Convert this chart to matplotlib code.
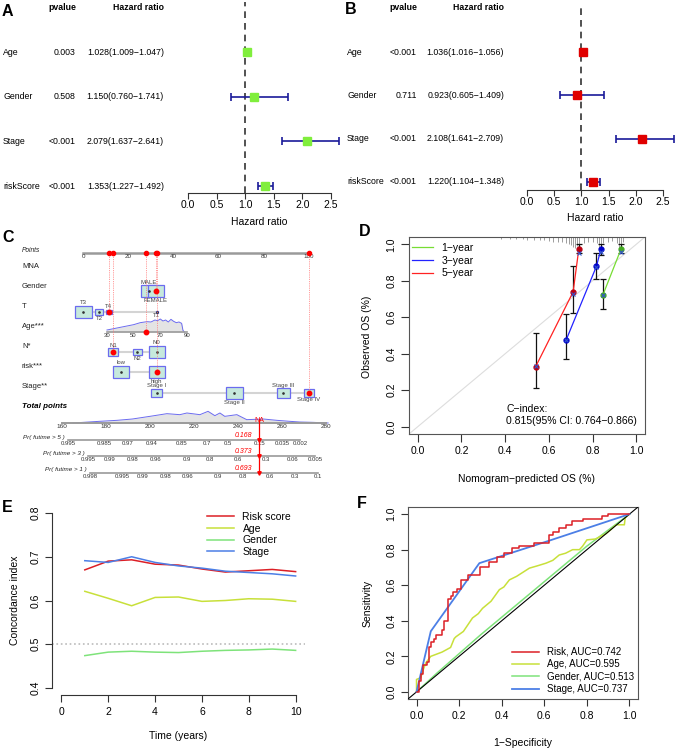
import numpy as np
import matplotlib
matplotlib.use('Agg')
import matplotlib.pyplot as plt
import matplotlib.transforms as mtransforms
from matplotlib.patches import Rectangle

plt.rcParams['font.family'] = ['Liberation Sans', 'DejaVu Sans']
MINUS = '\u2212'

W, H = 676, 750

# ---------------- data: A / B forest plots
forest_vars = ['Age', 'Gender', 'Stage', 'riskScore']
a_pvals = ['0.003', '0.508', '<0.001', '<0.001']
a_hr = [1.028, 1.150, 2.079, 1.353]
a_low = [1.009, 0.760, 1.637, 1.227]
a_high = [1.047, 1.741, 2.641, 1.492]
b_pvals = ['<0.001', '0.711', '<0.001', '<0.001']
b_hr = [1.036, 0.923, 2.108, 1.220]
b_low = [1.016, 0.605, 1.641, 1.104]
b_high = [1.056, 1.409, 2.709, 1.348]
hr_ticks = [0.0, 0.5, 1.0, 1.5, 2.0, 2.5]

# ---------------- data: C nomogram
points_ticks = [0, 20, 40, 60, 80, 100]
gender_levels = ['MALE', 'FEMALE']
gender_pts = [29.2, 32.3]
gender_freq = [15, 16]
t_levels = ['T3', 'T2', 'T4', 'T1']
t_pts = [0, 7.3, 11.3, 32.6]
t_freq = [17, 8, 6, 2]
n_levels = ['N1', 'N2', 'N0']
n_pts = [13.3, 23.9, 32.6]
n_freq = [10, 9, 16]
risk_levels = ['low', 'high']
risk_pts = [16.7, 32.6]
risk_freq = [16, 16]
stage_levels = ['Stage I', 'Stage II', 'Stage III', 'Stage IV']
stage_pts = [32.6, 66.9, 88.6, 100]
stage_freq = [11, 17, 13, 10]
age_ticks = [30, 50, 70, 90]
age_pts_range = [10.6, 46.0]
age_grid = [30, 40, 50, 55, 60, 63, 66, 68, 70, 72, 74, 76, 78, 80, 82, 84, 86, 87, 88]
age_dens = [6, 14, 22, 28, 31, 30, 36, 34, 39, 33, 36, 30, 38, 32, 28, 30, 26, 5, 0]
total_ticks = [160, 180, 200, 220, 240, 260, 280]
total_pts_range = [-9.3, 107.5]
total_grid = [165, 177, 185, 192, 200, 207.7, 213.6, 216.8, 222.7, 226.4, 229.5,
              231.8, 234, 239.5, 244, 251.5, 257.7, 263.6, 268, 274, 281]
total_dens = [0, 5, 8, 12, 20, 28, 25, 30, 25, 35, 22, 30, 20, 25, 10, 12, 8, 5, 3, 2, 0]
pr5_labels = ['0.995', '0.985', '0.97', '0.94', '0.85', '0.7', '0.5', '0.15', '0.035', '0.002']
pr5_total = [162.7, 179.1, 190.0, 200.9, 214.5, 225.9, 235.5, 250.0, 260.0, 268.2]
pr3_labels = ['0.995', '0.99', '0.98', '0.96', '0.9', '0.8', '0.6', '0.3', '0.06', '0.005']
pr3_total = [171.8, 181.8, 192.3, 202.7, 216.8, 227.3, 240.0, 252.7, 265.0, 275.0]
pr1_labels = ['0.998', '0.995', '0.99', '0.98', '0.96', '0.9', '0.8', '0.6', '0.3', '0.1']
pr1_total = [172.7, 187.3, 196.8, 207.3, 217.3, 230.9, 242.3, 254.5, 265.9, 276.4]
patient = {'Gender': 'FEMALE', 'T': 'T4', 'N': 'N1', 'risk': 'high', 'Stage': 'Stage IV'}
patient_age = 59
patient_total = 249.5
patient_probs = ['0.168', '0.373', '0.693']

# ---------------- data: D calibration
cal_1y_pred = [0.847, 0.930]
cal_1y_obs = [0.721, 0.973]
cal_1y_lo = [0.648, 0.950]
cal_1y_hi = [0.810, 1.000]
cal_1y_corr = [0.720, 0.960]
cal_3y_pred = [0.679, 0.818, 0.838]
cal_3y_obs = [0.475, 0.880, 0.973]
cal_3y_lo = [0.372, 0.810, 0.940]
cal_3y_hi = [0.616, 0.955, 1.000]
cal_3y_corr = [0.478, 0.875, 0.960]
cal_5y_pred = [0.540, 0.711, 0.737]
cal_5y_obs = [0.330, 0.739, 0.973]
cal_5y_lo = [0.211, 0.623, 0.950]
cal_5y_hi = [0.512, 0.881, 1.000]
cal_5y_corr = [0.335, 0.725, 0.955]
rug_pred = [0.38, 0.42, 0.45, 0.48, 0.50, 0.53, 0.56, 0.58, 0.60, 0.62, 0.64, 0.66,
            0.68, 0.69, 0.70, 0.71, 0.72, 0.73, 0.74, 0.76, 0.78, 0.80, 0.82, 0.83,
            0.84, 0.85, 0.87, 0.89, 0.91, 0.92, 0.93, 0.94]
rug_len = [0.005, 0.005, 0.008, 0.008, 0.010, 0.010, 0.012, 0.012, 0.015, 0.020, 0.020,
           0.025, 0.030, 0.035, 0.040, 0.050, 0.055, 0.045, 0.060, 0.030, 0.020, 0.020,
           0.030, 0.050, 0.055, 0.030, 0.020, 0.015, 0.030, 0.050, 0.055, 0.020]

# ---------------- data: E time-dependent C-index
years = [1, 2, 3, 4, 5, 6, 7, 8, 9, 10]
cidx_risk = [0.670, 0.690, 0.693, 0.683, 0.681, 0.672, 0.665, 0.668, 0.671, 0.666]
cidx_age = [0.621, 0.605, 0.588, 0.607, 0.608, 0.598, 0.600, 0.604, 0.603, 0.598]
cidx_gender = [0.474, 0.482, 0.484, 0.482, 0.481, 0.484, 0.486, 0.487, 0.489, 0.486]
cidx_stage = [0.691, 0.687, 0.700, 0.687, 0.679, 0.674, 0.667, 0.664, 0.661, 0.656]

# ---------------- data: F ROC
risk_fpr = [0, 0.01, 0.02, 0.03, 0.05, 0.06, 0.07, 0.08, 0.09, 0.12, 0.13, 0.15, 0.16,
            0.17, 0.19, 0.21, 0.24, 0.30, 0.34, 0.38, 0.41, 0.45, 0.48, 0.55, 0.62, 0.64,
            0.67, 0.70, 0.73, 0.78, 0.87, 0.90, 1.0]
risk_tpr = [0, 0.06, 0.10, 0.15, 0.17, 0.25, 0.28, 0.30, 0.32, 0.35, 0.40, 0.52, 0.54,
            0.56, 0.58, 0.63, 0.66, 0.70, 0.73, 0.76, 0.78, 0.81, 0.82, 0.84, 0.88, 0.90,
            0.92, 0.94, 0.96, 0.97, 0.99, 1.0, 1.0]
age_fpr = [0, 0, 0.02, 0.03, 0.044, 0.067, 0.12, 0.16, 0.177, 0.185, 0.22, 0.263, 0.29,
           0.31, 0.35, 0.389, 0.41, 0.436, 0.47, 0.53, 0.57, 0.608, 0.64, 0.67, 0.70,
           0.733, 0.765, 0.78, 0.80, 0.84, 0.89, 0.91, 0.937, 0.976, 0.98, 1.0]
age_tpr = [0, 0.07, 0.08, 0.12, 0.164, 0.20, 0.224, 0.25, 0.30, 0.31, 0.34, 0.416, 0.44,
           0.47, 0.51, 0.575, 0.59, 0.63, 0.65, 0.696, 0.71, 0.724, 0.74, 0.77, 0.78,
           0.80, 0.80, 0.82, 0.855, 0.86, 0.89, 0.91, 0.94, 0.94, 0.98, 1.0]
gender_fpr = [0, 0.1, 0.3, 0.5, 0.7, 0.8, 0.9, 1.0]
gender_tpr = [0, 0.11, 0.32, 0.52, 0.72, 0.82, 0.91, 1.0]
stage_fpr = [0, 0.067, 0.295, 0.624, 1.0]
stage_tpr = [0, 0.341, 0.724, 0.851, 1.0]
roc_labels = ['Risk, AUC=0.742', 'Age, AUC=0.595', 'Gender, AUC=0.513', 'Stage, AUC=0.737']

C_RED = '#DC1F26'
C_AGE = '#C8E03A'
C_GEN = '#7EE37A'
C_STG = '#4C7FE6'

fig = plt.figure(figsize=(6.76, 7.5), dpi=100)


def fx(px):
    return px / W


def fy(py):
    return 1 - py / H


def px_axes(l, t, r, b):
    return fig.add_axes([l / W, 1 - b / H, (r - l) / W, (b - t) / H])


def letter(x, y, s):
    fig.text(fx(x), fy(y), s, fontsize=11.5, fontweight='bold', ha='left', va='center')


def rot_yticks(ax):
    for lab in ax.get_yticklabels():
        lab.set_rotation(90)
        lab.set_va('center')


# ================= A / B forest plots
def forest(x0, x1, px_unit, y_top, y_axis, y_row0, row_step, hr, lo, hi, pv, col,
           x_name, x_pval, x_hrtxt, y_xlabel):
    ax = px_axes(x0, y_top, x1, y_axis)
    ax.set_xlim(0, (x1 - x0) / px_unit)
    ax.set_ylim((y_axis - y_row0) / row_step, (y_top - y_row0) / row_step)
    rows = np.arange(len(forest_vars))
    hr, lo, hi = np.array(hr), np.array(lo), np.array(hi)
    ax.axvline(1.0, color='#333333', ls=(0, (4, 3)), lw=1.2)
    ax.errorbar(hr, rows, xerr=[hr - lo, hi - hr], fmt='none', ecolor='#1a1a99',
                elinewidth=1.2, capsize=3, capthick=1.2, clip_on=False)
    ax.plot(hr, rows, 's', color=col, ms=5.8, zorder=4, clip_on=False)
    for s in ['top', 'right', 'left']:
        ax.spines[s].set_visible(False)
    ax.spines['bottom'].set_bounds(0, 2.5)
    ax.spines['bottom'].set_color('#333333')
    ax.set_yticks([])
    ax.set_xticks(hr_ticks)
    ax.set_xticklabels(['%.1f' % t for t in hr_ticks])
    ax.tick_params(axis='x', length=4, pad=1, labelsize=7.5, color='#333333')
    tr = mtransforms.blended_transform_factory(fig.transFigure, ax.transData)
    for i, name in enumerate(forest_vars):
        ax.text(fx(x_name), i, name, transform=tr, fontsize=6.3, ha='left', va='center')
        ax.text(fx(x_pval), i, pv[i], transform=tr, fontsize=6.3, ha='right', va='center')
        ax.text(fx(x_hrtxt), i, '%.3f(%.3f%s%.3f)' % (hr[i], lo[i], MINUS, hi[i]),
                transform=tr, fontsize=6.3, ha='right', va='center')
    fig.text(fx(x_pval), fy(8), 'pvalue', fontsize=6.3, fontweight='bold', ha='right', va='center')
    fig.text(fx(x_hrtxt), fy(8), 'Hazard ratio', fontsize=6.3, fontweight='bold', ha='right', va='center')
    fig.text(fx(x0 + 1.25 * px_unit), fy(y_xlabel), 'Hazard ratio', fontsize=7.5, ha='center', va='center')


forest(188, 340, 57.2, 2, 193, 52, 44.7, a_hr, a_low, a_high, a_pvals, '#80EE3C',
       3, 76, 164, 222)
forest(527, 676, 54.4, 4, 190, 52, 43.3, b_hr, b_low, b_high, b_pvals, '#E00000',
       347, 417, 504, 218)
letter(2, 12, 'A')
letter(345, 9, 'B')

# ================= C nomogram
PX_PT = 2.26
axc = px_axes(0, 240, 340, 482)
axc.set_xlim(-83 / PX_PT, (340 - 83) / PX_PT)
axc.set_ylim(482, 240)
axc.axis('off')
lab_x = (22 - 83) / PX_PT

row_names = ['Points', 'MNA', 'Gender', 'T', 'Age***', 'N*', 'risk***', 'Stage**', 'Total points']
row_label_y = [250, 266, 286, 306, 326, 346, 366, 386, 406]
for name, y in zip(row_names, row_label_y):
    if name == 'Points':
        axc.text(lab_x, y, name, fontsize=4.8, style='italic', va='center', color='#222222')
    elif name == 'Total points':
        axc.text(lab_x, y, name, fontsize=5.8, style='italic', fontweight='bold', va='center')
    else:
        axc.text(lab_x, y, name, fontsize=5.5, va='center', color='#222222')

Y_PTS = 253
axc.plot([0, 100], [Y_PTS, Y_PTS], color='#9a9a9a', lw=1.8, zorder=1)
for t in points_ticks:
    axc.text(t, Y_PTS + 4, str(t), fontsize=4.5, ha='center', va='center', color='#333333')

patient_points = []


def cat_row(levels, pts, freq, y, chosen):
    axc.plot([min(pts), max(pts)], [y, y], color='#d4d4d4', lw=1.5, zorder=1)
    for i, (lev, p, w) in enumerate(zip(levels, pts, freq)):
        wd = w / PX_PT
        h = w * 0.75
        axc.add_patch(Rectangle((p - wd / 2, y - h / 2), wd, h, facecolor='#c6e9dc',
                                edgecolor='#6b6bef', lw=0.9, zorder=2))
        axc.plot(p, y, 'o', ms=0.9, color='#333333', zorder=3)
        ly = y - h / 2 - 3 if i % 2 == 0 else y + h / 2 + 3
        axc.text(p, ly, lev, ha='center', va='center', fontsize=4.3, color='#444444')
        if lev == chosen:
            axc.plot(p, y, 'o', ms=3.2, color='red', zorder=4)
            patient_points.append((p, y))


cat_row(gender_levels, gender_pts, gender_freq, 291, patient['Gender'])
cat_row(t_levels, t_pts, t_freq, 312, patient['T'])
cat_row(n_levels, n_pts, n_freq, 352, patient['N'])
cat_row(risk_levels, risk_pts, risk_freq, 372, patient['risk'])
cat_row(stage_levels, stage_pts, stage_freq, 393, patient['Stage'])


def age_to_pts(a):
    a = np.asarray(a, dtype=float)
    return age_pts_range[0] + (a - age_ticks[0]) * (age_pts_range[1] - age_pts_range[0]) / (age_ticks[-1] - age_ticks[0])


Y_AGE = 332
ag = age_to_pts(age_grid)
axc.fill_between(ag, Y_AGE, Y_AGE - np.array(age_dens) / 3, color='#e4e4e4', lw=0, zorder=1)
axc.plot(ag, Y_AGE - np.array(age_dens) / 3, color='#6b6bef', lw=0.7, zorder=2)
axc.plot(age_to_pts([age_ticks[0], age_ticks[-1]]), [Y_AGE, Y_AGE], color='#9a9a9a', lw=1.2, zorder=2)
for a in age_ticks:
    axc.text(age_to_pts(a), Y_AGE + 3.5, str(a), fontsize=4.3, ha='center', va='center', color='#333333')
pa = float(age_to_pts(patient_age))
axc.plot(pa, Y_AGE, 'o', ms=3.2, color='red', zorder=4)
patient_points.append((pa, Y_AGE))

# red dotted guide lines to the Points axis
for p, y in patient_points:
    axc.plot([p, p], [Y_PTS, y], color='#ff7a7a', lw=0.6, ls=(0, (1, 1.2)), zorder=3)
    axc.plot(p, Y_PTS, 'o', ms=3.0, color='red', zorder=4)


def tot_to_pts(t):
    t = np.asarray(t, dtype=float)
    return total_pts_range[0] + (t - total_ticks[0]) * (total_pts_range[1] - total_pts_range[0]) / (total_ticks[-1] - total_ticks[0])


Y_TOT = 423
tg = tot_to_pts(total_grid)
axc.fill_between(tg, Y_TOT, Y_TOT - np.array(total_dens) / 3, color='#e4e4e4', lw=0, zorder=1)
axc.plot(tg, Y_TOT - np.array(total_dens) / 3, color='#6b6bef', lw=0.7, zorder=2)
axc.plot(tot_to_pts([total_ticks[0], total_ticks[-1]]), [Y_TOT, Y_TOT], color='#9a9a9a', lw=1.4, zorder=2)
for t in total_ticks:
    axc.text(tot_to_pts(t), Y_TOT + 4, str(t), fontsize=4.6, ha='center', va='center', color='#333333')

pr_rows = [('Pr( futime > 5 )', pr5_labels, pr5_total, 440, 23, 437),
           ('Pr( futime > 3 )', pr3_labels, pr3_total, 456, 43, 453),
           ('Pr( futime > 1 )', pr1_labels, pr1_total, 473, 45, 470)]
for name, labs, tots, y, tx, ty in pr_rows:
    axc.plot(tot_to_pts([tots[0], tots[-1]]), [y, y], color='#9a9a9a', lw=1.2, zorder=2)
    for lab, t in zip(labs, tots):
        axc.text(tot_to_pts(t), y + 3.5, lab, fontsize=4.3, ha='center', va='center', color='#333333')
    axc.text((tx - 83) / PX_PT, ty, name, fontsize=4.5, style='italic', ha='left', va='center', color='#222222')

pt = float(tot_to_pts(patient_total))
axc.plot([pt, pt], [Y_TOT - 4, pr_rows[-1][3]], color='red', lw=0.9, zorder=5)
axc.text(pt, Y_TOT - 3, 'NA', color='red', fontsize=5, ha='center', va='center', zorder=5)
for (name, labs, tots, y, tx, ty), prob in zip(pr_rows, patient_probs):
    axc.plot(pt, y, 'v', ms=2.5, color='red', zorder=5)
    axc.text(pt - 3, y - 4.5, prob, color='red', fontsize=5, style='italic', ha='right', va='center')
letter(2, 237, 'C')

# ================= D calibration
axd = px_axes(409, 237, 645, 434)
axd.set_xlim(-0.04, 1.04)
axd.set_ylim(-0.04, 1.04)
axd.axline((0, 0), (1, 1), color='#dddddd', lw=0.8, zorder=1)
axd.vlines(rug_pred, 1.04 - np.array(rug_len) - 0.005, 1.04, color='#777777', lw=0.5)
cal_sets = [(cal_1y_pred, cal_1y_obs, cal_1y_lo, cal_1y_hi, cal_1y_corr, '#77dd33', '#44aa22', '1' + MINUS + 'year'),
            (cal_3y_pred, cal_3y_obs, cal_3y_lo, cal_3y_hi, cal_3y_corr, '#2222ff', '#0000cc', '3' + MINUS + 'year'),
            (cal_5y_pred, cal_5y_obs, cal_5y_lo, cal_5y_hi, cal_5y_corr, '#ff2222', '#bb0011', '5' + MINUS + 'year')]
for pred, obs, lo, hi, corr, col, dcol, lab in cal_sets:
    pred, obs, lo, hi = map(np.array, (pred, obs, lo, hi))
    axd.errorbar(pred, obs, yerr=[obs - lo, hi - obs], fmt='none', ecolor='#111111',
                 elinewidth=0.9, capsize=2.5, capthick=0.9, zorder=2)
    axd.plot(pred, obs, color=col, lw=0.9, label=lab, zorder=3)
    axd.plot(pred, obs, 'o', color=dcol, ms=3.5, zorder=4)
    axd.plot(pred, corr, 'x', color='#3355cc', ms=3.5, mew=0.8, zorder=5)
axd.set_xticks([0, 0.2, 0.4, 0.6, 0.8, 1.0])
axd.set_yticks([0, 0.2, 0.4, 0.6, 0.8, 1.0])
axd.set_xticklabels(['0.0', '0.2', '0.4', '0.6', '0.8', '1.0'])
axd.set_yticklabels(['0.0', '0.2', '0.4', '0.6', '0.8', '1.0'])
axd.tick_params(length=5.5, pad=3.5, labelsize=7.5, color='#333333')
rot_yticks(axd)
for s in axd.spines.values():
    s.set_color('#555555')
    s.set_linewidth(0.8)
axd.legend(loc='upper left', bbox_to_anchor=(fx(410), fy(241)), bbox_transform=fig.transFigure,
           frameon=False, fontsize=7.5, handlelength=2.0, handletextpad=0.8,
           labelspacing=0.25, borderaxespad=0, borderpad=0.2)
axd.text(0.404, 0.098, 'C' + MINUS + 'index:', fontsize=7.5, ha='left', va='center')
axd.text(0.404, 0.033, '0.815(95% CI: 0.764' + MINUS + '0.866)', fontsize=7.5, ha='left', va='center')
fig.text(fx(527), fy(479), 'Nomogram' + MINUS + 'predicted OS (%)', fontsize=7.5, ha='center', va='center')
fig.text(fx(367), fy(337), 'Observed OS (%)', fontsize=7.5, ha='center', va='center', rotation=90)
letter(359, 231, 'D')

# ================= E C-index over time
axe = px_axes(52, 506, 305, 695)
axe.set_xlim(-0.4, 10.4)
axe.set_ylim(0.384, 0.816)
axe.axhline(0.5, color='#bbbbbb', ls=':', lw=1.2)
axe.plot(years, cidx_risk, color=C_RED, lw=1.1, label='Risk score')
axe.plot(years, cidx_age, color=C_AGE, lw=1.1, label='Age')
axe.plot(years, cidx_gender, color=C_GEN, lw=1.1, label='Gender')
axe.plot(years, cidx_stage, color=C_STG, lw=1.1, label='Stage')
axe.spines['top'].set_visible(False)
axe.spines['right'].set_visible(False)
axe.spines['left'].set_bounds(0.4, 0.8)
axe.spines['bottom'].set_bounds(0, 10)
for s in ['left', 'bottom']:
    axe.spines[s].set_color('#333333')
axe.set_xticks([0, 2, 4, 6, 8, 10])
axe.set_yticks([0.4, 0.5, 0.6, 0.7, 0.8])
axe.set_yticklabels(['0.4', '0.5', '0.6', '0.7', '0.8'])
axe.tick_params(length=5, pad=3.5, labelsize=7.5, color='#333333')
rot_yticks(axe)
axe.legend(loc='upper left', bbox_to_anchor=(fx(205), fy(510)), bbox_transform=fig.transFigure,
           frameon=False, fontsize=7.5, handlelength=2.6, handletextpad=0.8,
           labelspacing=0.15, borderaxespad=0, borderpad=0.2)
fig.text(fx(178), fy(736), 'Time (years)', fontsize=7.5, ha='center', va='center')
fig.text(fx(15), fy(600), 'Concordance index', fontsize=7.5, ha='center', va='center', rotation=90)
letter(2, 508, 'E')

# ================= F ROC
axf = px_axes(408, 507, 638, 699)
axf.set_xlim(-0.04, 1.04)
axf.set_ylim(-0.04, 1.04)
axf.plot(gender_fpr, gender_tpr, color=C_GEN, lw=1.1, label=roc_labels[2], zorder=2)
axf.plot(age_fpr, age_tpr, color=C_AGE, lw=1.1, label=roc_labels[1], zorder=2)
axf.axline((0, 0), (1, 1), color='black', lw=0.8, zorder=3)
axf.plot(stage_fpr, stage_tpr, color=C_STG, lw=1.3, label=roc_labels[3], zorder=4)
axf.plot(risk_fpr, risk_tpr, color=C_RED, lw=1.1, drawstyle='steps-post', label=roc_labels[0], zorder=4)
hnd, lbl = axf.get_legend_handles_labels()
order = [lbl.index(l) for l in roc_labels]
axf.legend([hnd[i] for i in order], roc_labels, loc='upper left',
           bbox_to_anchor=(fx(510), fy(645)), bbox_transform=fig.transFigure,
           frameon=False, fontsize=7, handlelength=2.8, handletextpad=0.8,
           labelspacing=0.25, borderaxespad=0, borderpad=0.2)
axf.set_xticks([0, 0.2, 0.4, 0.6, 0.8, 1.0])
axf.set_yticks([0, 0.2, 0.4, 0.6, 0.8, 1.0])
axf.set_xticklabels(['0.0', '0.2', '0.4', '0.6', '0.8', '1.0'])
axf.set_yticklabels(['0.0', '0.2', '0.4', '0.6', '0.8', '1.0'])
axf.tick_params(length=5, pad=3.5, labelsize=7.5, color='#333333')
rot_yticks(axf)
for s in axf.spines.values():
    s.set_color('#555555')
    s.set_linewidth(0.8)
fig.text(fx(523), fy(743), '1' + MINUS + 'Specificity', fontsize=7.5, ha='center', va='center')
fig.text(fx(368), fy(603), 'Sensitivity', fontsize=7.5, ha='center', va='center', rotation=90)
letter(357, 503, 'F')

fig.savefig('out.png', dpi=100)
